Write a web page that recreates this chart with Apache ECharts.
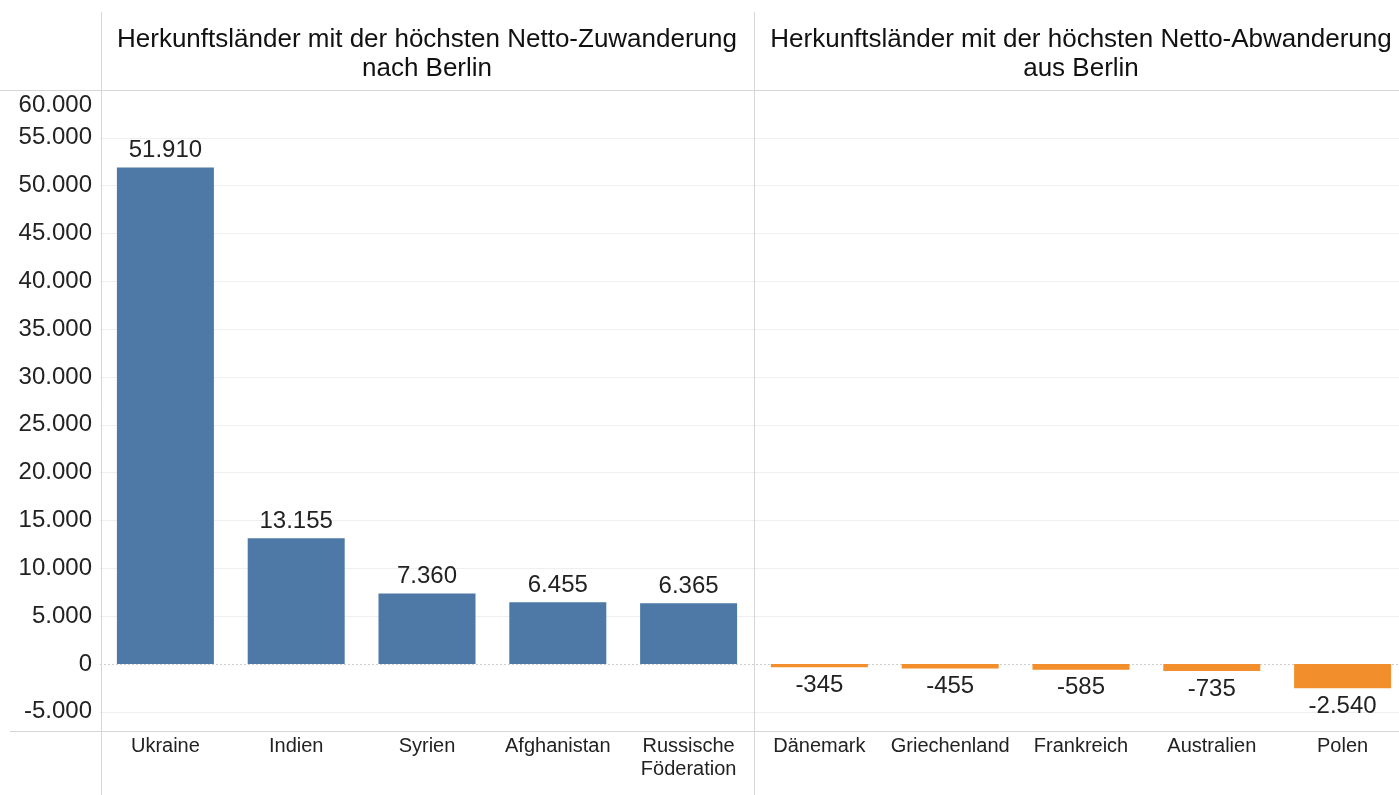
<!DOCTYPE html>
<html><head><meta charset="utf-8">
<script src="https://cdn.jsdelivr.net/npm/echarts@6/dist/echarts.min.js"></script>
<style>html,body{margin:0;padding:0;background:#fff;overflow:hidden}#c{width:1410px;height:795px}</style>
</head><body><div id="c"></div>
<script>
const categories = ['Ukraine','Indien','Syrien','Afghanistan','Russische\nFöderation','Dänemark','Griechenland','Frankreich','Australien','Polen'];
const zuwanderung = [51910, 13155, 7360, 6455, 6365, null, null, null, null, null];
const abwanderung = [null, null, null, null, null, -345, -455, -585, -735, -2540];
const yTicks = [-5000, 0, 5000, 10000, 15000, 20000, 25000, 30000, 35000, 40000, 45000, 50000, 55000, 60000];
const panelTitles = ['Herkunftsländer mit der höchsten Netto-Zuwanderung\nnach Berlin', 'Herkunftsländer mit der höchsten Netto-Abwanderung\naus Berlin'];

const FONT = 'Arial, "Liberation Sans", sans-serif';
function de(v){
  const s = Math.abs(v).toString().replace(/\B(?=(\d{3})+(?!\d))/g, '.');
  return (v < 0 ? '-' : '') + s;
}
const chart = echarts.init(document.getElementById('c'), null, {renderer:'canvas'});
const gridLeft = 100, gridWidth = 1308, gridTop = 90, gridBottom = 64;
const lineCol = '#d6d6d6';
chart.setOption({
  animation:false,
  backgroundColor:'#fff',
  grid:{left:gridLeft, width:gridWidth, top:gridTop, bottom:gridBottom, containLabel:false},
  xAxis:{type:'category', data:categories,
    axisLine:{show:false}, axisTick:{show:false},
    axisLabel:{fontFamily:FONT, fontSize:20, color:'#222', margin:4, lineHeight:23, interval:0}},
  yAxis:[
    {type:'value', min:-7000, max:60000, interval:1000,
     axisLine:{show:false}, axisTick:{show:false}, splitLine:{show:false},
     axisLabel:{fontFamily:FONT, fontSize:24, color:'#222', margin:8,
       formatter:v => (v % 5000 === 0 && v !== 60000) ? de(v) : ''}},
    {type:'value', min:-7000, max:60000, interval:1000, position:'left',
     axisLine:{show:false}, axisTick:{show:false}, splitLine:{show:false},
     axisLabel:{fontFamily:FONT, fontSize:24, color:'#222', margin:8, verticalAlign:'top', padding:[3,0,0,0],
       formatter:v => v === 60000 ? de(v) : ''}}
  ],
  series:[
    {type:'bar', data:zuwanderung, barWidth:97, barGap:'-100%', z:3,
     itemStyle:{color:'#4e79a7'},
     label:{show:true, position:'top', distance:5, fontFamily:FONT, fontSize:24, color:'#222', formatter:p => de(p.value)},
     markLine:{silent:true, symbol:'none', label:{show:false}, z:1,
       data:yTicks.filter(t => t !== 0).map(t => ({yAxis:t})),
       lineStyle:{color:'#efefef', type:'solid', width:1}}},
    {type:'bar', data:abwanderung, barWidth:97, barGap:'-100%', z:3,
     itemStyle:{color:'#f28e2b'},
     label:{show:true, position:'bottom', distance:6, fontFamily:FONT, fontSize:24, color:'#222', formatter:p => de(p.value)},
     markLine:{silent:true, symbol:'none', label:{show:false}, z:1,
       data:[{yAxis:0}], lineStyle:{color:'#cfcfcf', type:[2,2], width:1}}}
  ],
  graphic:[
    {type:'line', shape:{x1:0, y1:90.5, x2:1410, y2:90.5}, style:{stroke:lineCol, lineWidth:1}, z:10},
    {type:'line', shape:{x1:10, y1:731.5, x2:1410, y2:731.5}, style:{stroke:lineCol, lineWidth:1}, z:10},
    {type:'line', shape:{x1:101.5, y1:12, x2:101.5, y2:795}, style:{stroke:lineCol, lineWidth:1}, z:10},
    {type:'line', shape:{x1:754.5, y1:12, x2:754.5, y2:795}, style:{stroke:lineCol, lineWidth:1}, z:10},
    {type:'text', x:gridLeft + gridWidth/4, y:25, style:{text:panelTitles[0], fontFamily:FONT, fontSize:26, lineHeight:29, fill:'#111', align:'center', verticalAlign:'top'}},
    {type:'text', x:gridLeft + gridWidth*3/4, y:25, style:{text:panelTitles[1], fontFamily:FONT, fontSize:26, lineHeight:29, fill:'#111', align:'center', verticalAlign:'top'}}
  ]
});
</script></body></html>
